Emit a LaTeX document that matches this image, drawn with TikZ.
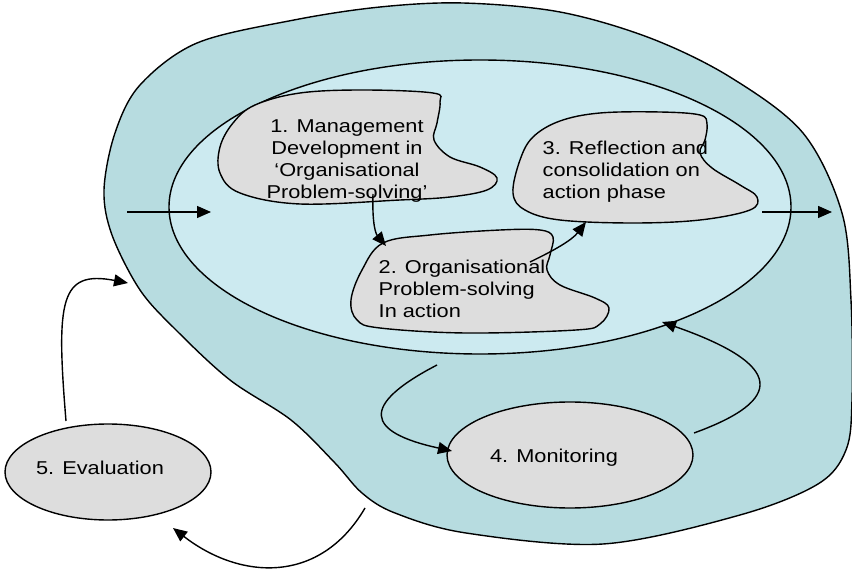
\documentclass[tikz,border=0pt]{standalone}
\usepackage{fontspec}
\setmainfont{Liberation Sans}[FakeStretch=1.17]
\usepackage{tikz}
\usetikzlibrary{arrows.meta,arrows, positioning, shapes, fit, calc}
\definecolor{outerteal}{RGB}{183,220,224}
\definecolor{innerblue}{RGB}{204,234,240}
\definecolor{blobgrey}{RGB}{221,221,221}

\begin{document}
\begin{tikzpicture}[x=1pt, y=-1pt, line width=1.4pt,
    flow/.style={-{Triangle[length=14pt,width=12pt]}},
    blob/.style={draw, fill=blobgrey},
    lbl/.style={font=\fontsize{18.6}{22}\selectfont, inner sep=0pt},
    phase/.style={draw, ellipse, fill=blobgrey, inner sep=0pt}]
    \useasboundingbox (0,0) rectangle (852,569);

    % Outer area and inner ellipse
    \draw[fill=outerteal] plot[smooth cycle, tension=0.55] coordinates {
        (463,3) (560,12) (650,38) (730,77) (803,133) (842,213) (851,300)
        (852,400) (846,450) (818,484) (740,515) (603,544) (466,533)
        (395,513) (362,493) (335,463) (291,420) (230,380) (176,330)
        (140,290) (112,235) (104,190) (115,133) (140,85) (197,43)
        (294,20) (380,7)};
    \draw[fill=innerblue] (480,207) ellipse [x radius=311, y radius=147];

    % Blobs
    \draw[blob] plot[smooth cycle, tension=0.6] coordinates {
        (233,123) (255,105) (300,93) (363,90) (433,93) (440,102) (437,123)
        (434,140) (450,157) (480,167) (497,178) (487,190) (450,197)
        (400,200) (300,204) (240,193) (220,173) (220,147)};
    \draw[blob] plot[smooth cycle, tension=0.6] coordinates {
        (383,243) (430,235) (500,230) (540,230) (553,237) (550,255)
        (547,270) (560,285) (595,298) (609,308) (600,324) (576,330)
        (466,333) (380,328) (357,320) (351,300) (362,270)};
    \draw[blob] plot[smooth cycle, tension=0.6] coordinates {
        (533,137) (560,121) (600,113) (660,112) (700,115) (707,124)
        (705,140) (700,153) (712,168) (740,185) (757,197) (750,210)
        (700,220) (633,223) (560,220) (525,210) (513,193) (520,160)};

    % Nodes
    \node[lbl, align=center] (mgmt) at (347,160.7) {1. Management\\Development in\\`Organisational\\Problem-solving'};
    \node[lbl, align=left] (action) at (378,288.7) [anchor=west] {2. Organisational\\Problem-solving\\In action};
    \node[lbl, align=left] (reflect) at (542,172) [anchor=west] {3. Reflection and\\consolidation on\\action phase};
    \node[phase, minimum width=246, minimum height=106] (mon) at (570,455) {};
    \node[lbl] (montxt) at (554,458) {4. Monitoring};
    \node[phase, minimum width=206, minimum height=96] (eval) at (108,472) {};
    \node[lbl] (evaltxt) at (100,468) {5. Evaluation};

    % Arrow ends
    \coordinate (inA) at (127,212);
    \coordinate (inB) at (211,212);
    \coordinate (outA) at (762,212);
    \coordinate (outB) at (832,212);
    \coordinate (a1) at (373,194);
    \coordinate (a2) at (386,246);
    \coordinate (b1) at (530,262);
    \coordinate (b2) at (586,222);
    \coordinate (c1) at (437,365);
    \coordinate (c2) at (452,451);
    \coordinate (d1) at (694,433);
    \coordinate (d2) at (662,322);
    \coordinate (e1) at (365,508);
    \coordinate (e2) at (173,528);
    \coordinate (f1) at (66,421);
    \coordinate (f2) at (128,283);

    % Arrows
    \draw[flow] (inA) -- (inB);
    \draw[flow] (outA) -- (outB);
    \draw[flow] (a1) .. controls (372,225) and (376,234) .. (a2);
    \draw[flow] (b1) .. controls (555,250) and (572,240) .. (b2);
    \draw[flow] (c1) .. controls (360,405) and (365,432) .. (c2);
    \draw[flow] (d1) .. controls (785,400) and (785,365) .. (d2);
    \draw[flow] (e1) .. controls (320,585) and (240,580) .. (e2);
    \draw[flow] (f1) .. controls (56,300) and (60,270) .. (f2);
\end{tikzpicture}
\end{document}
